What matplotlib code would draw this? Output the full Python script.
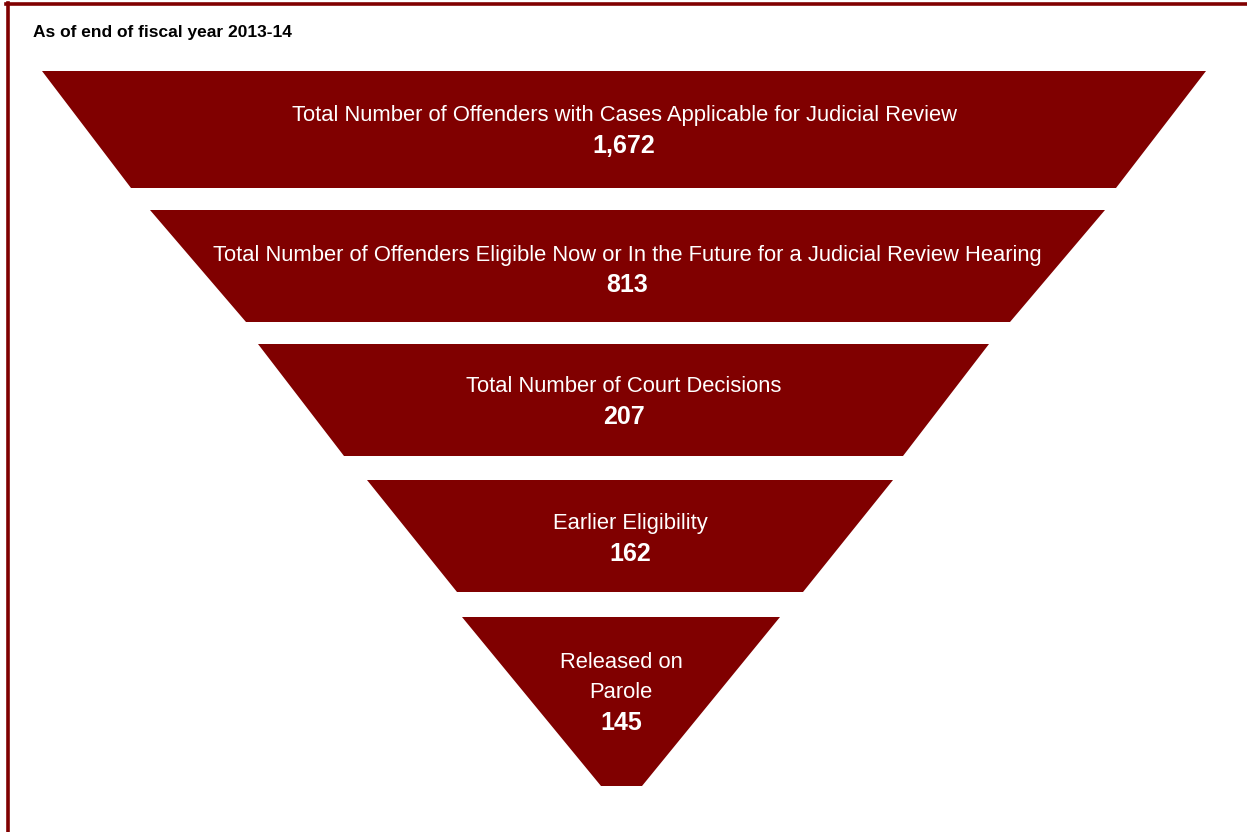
"""
Judicial review funnel, as of end of fiscal year 2013-14.
"""

import matplotlib
matplotlib.use("Agg")
import matplotlib.pyplot as plt
from matplotlib.patches import Polygon
from matplotlib.lines import Line2D

MAROON = "#800000"

# ── Data ──────────────────────────────────────────────────────────────────────
stage_labels = [
    "Total Number of Offenders with Cases Applicable for Judicial Review",
    "Total Number of Offenders Eligible Now or In the Future for a Judicial Review Hearing",
    "Total Number of Court Decisions",
    "Earlier Eligibility",
    "Released on\nParole",
]
stage_counts = [1672, 813, 207, 162, 145]
title = "As of end of fiscal year 2013-14"

# ── Layout (pixel space of the 1247x832 canvas) ──────────────────────────────
top_y    = [71, 210, 344, 480, 617]
bottom_y = [188, 322, 456, 592, 786]
top_l    = [42, 150, 258, 367, 462]
top_r    = [1206, 1105, 989, 893, 780]
bot_l    = [131, 246, 344, 457, 601]
bot_r    = [1116, 1010, 903, 803, 642]
text_y   = [131, 270, 402, 539, 693]

plt.rcParams["font.family"] = ["Liberation Sans", "DejaVu Sans"]

W, H = 1247, 832
fig = plt.figure(figsize=(W / 100, H / 100), dpi=100)
ax = fig.add_axes([0, 0, 1, 1])
ax.set_xlim(0, W)
ax.set_ylim(H, 0)
ax.axis("off")

for i, (label, count) in enumerate(zip(stage_labels, stage_counts)):
    poly = Polygon(
        [(top_l[i], top_y[i]), (top_r[i], top_y[i]),
         (bot_r[i], bottom_y[i]), (bot_l[i], bottom_y[i])],
        closed=True, facecolor=MAROON, edgecolor="none",
    )
    ax.add_patch(poly)
    cx = (top_l[i] + top_r[i]) / 2
    n_lines = label.count("\n") + 1
    line_h = 30
    y0 = text_y[i] - n_lines * line_h / 2
    for j, line in enumerate(label.split("\n")):
        ax.text(cx, y0 + j * line_h, line, color="white", fontsize=15.8,
                ha="center", va="center")
    ax.text(cx, y0 + n_lines * line_h, f"{count:,}", color="white",
            fontsize=18, fontweight="bold", ha="center", va="center")

ax.text(33, 32, title, fontsize=12.5, fontweight="bold", color="black",
        ha="left", va="center")

# frame lines (left and top)
ax.add_line(Line2D([7.5, 7.5], [3, H], color=MAROON, lw=2.6))
ax.add_line(Line2D([6, W], [4, 4], color=MAROON, lw=2.6))

fig.savefig("out.png", dpi=100)
